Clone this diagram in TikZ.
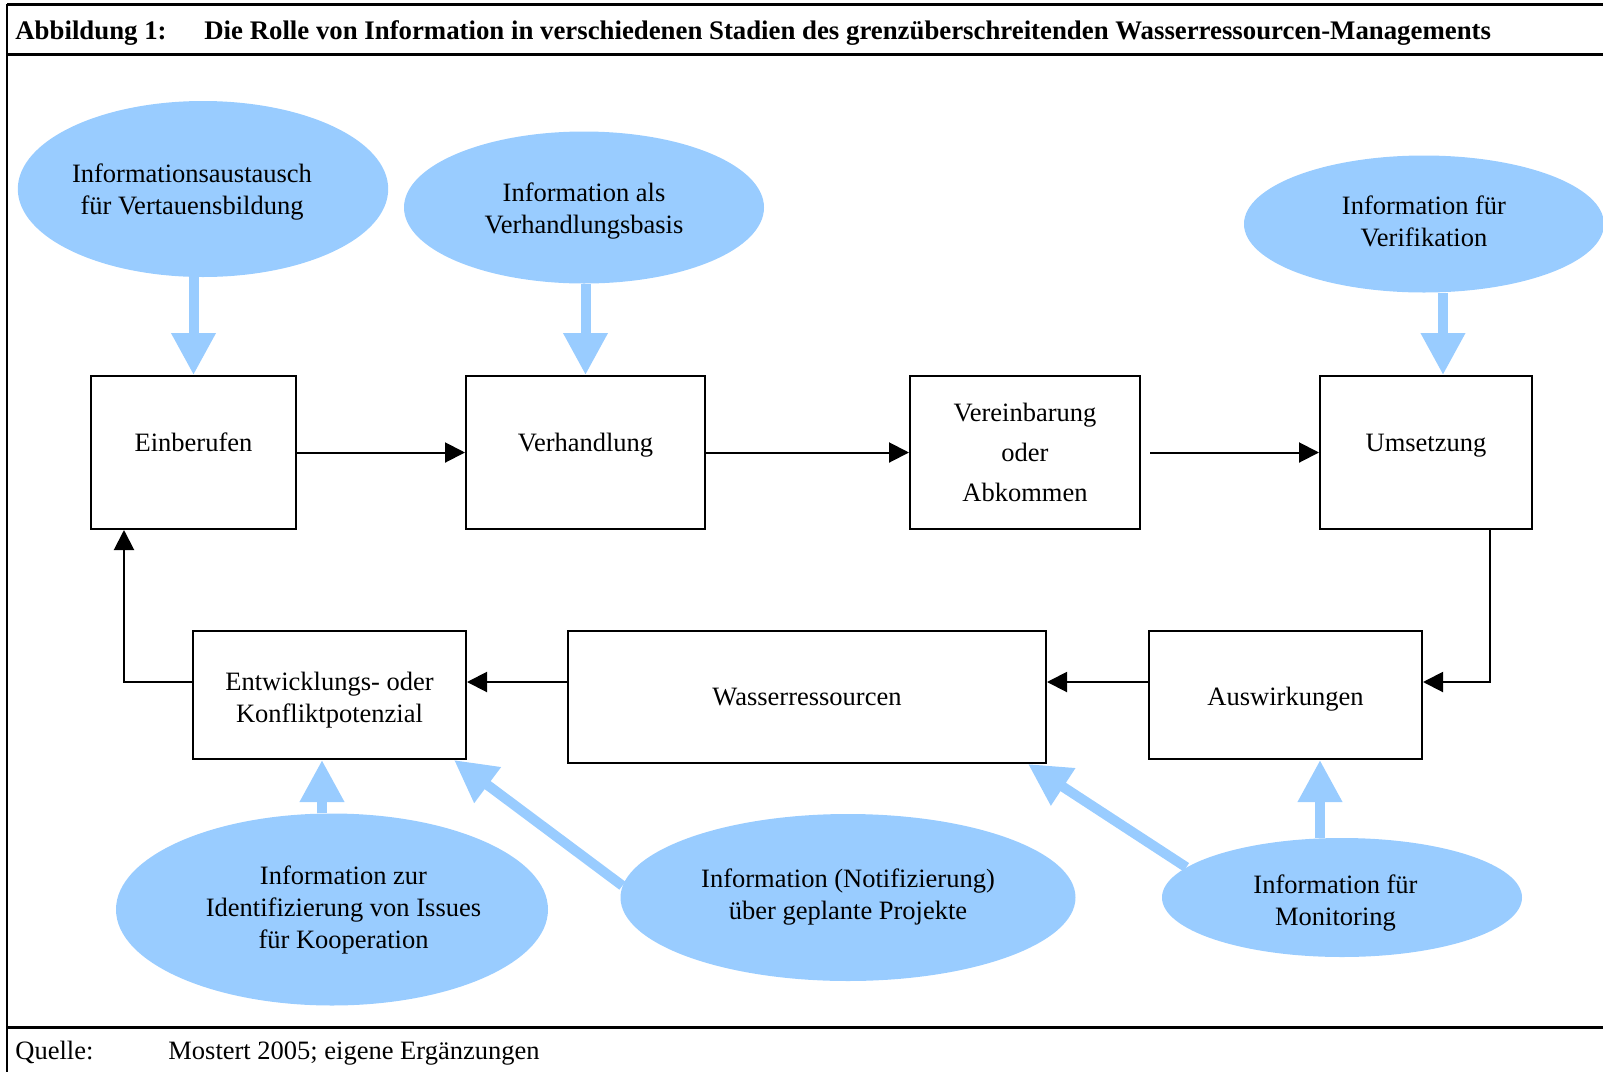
\documentclass[tikz,border=0pt]{standalone}
\usepackage{fontspec}
\setmainfont{Liberation Serif}
\usepackage{xcolor}
\usepackage{tikz}
\usetikzlibrary{positioning, arrows.meta, shapes.geometric, calc}
\definecolor{infoblue}{HTML}{99CCFF}

\tikzset{
  stage/.style={draw=black, line width=1pt, inner sep=0pt, align=center,
                minimum width=#1},
  stagetop/.style={stage=#1, minimum height=76.5pt,
                   text height=0.7em, text depth=0.8em},
  info/.style={ellipse, fill=infoblue, inner sep=0pt, align=center},
  flow/.style={draw=black, line width=1pt, -{Triangle[length=10pt,width=10pt]}},
  infoarrow/.style={draw=infoblue, line width=5pt, -{Triangle[length=21pt,width=21pt]}},
  caption/.style={anchor=base west, inner sep=0pt},
}

\begin{document}
\begin{tikzpicture}[x=0.5pt, y=-0.5pt, font=\fontsize{13.25pt}{16pt}\selectfont]
    \useasboundingbox (0,0) rectangle (1603,1072);

    % frame
    \draw[line width=1.5pt] (7,4) -- (1603,4);
    \draw[line width=1.5pt] (7,54) -- (1603,54);
    \draw[line width=1.5pt] (7,1027) -- (1603,1027);
    \draw[line width=1.2pt] (7,4) -- (7,1072);

    \node[caption, font=\fontsize{13.4pt}{16pt}\selectfont\bfseries] (fignum) at (15,39) {Abbildung 1:};
    \node[caption, font=\fontsize{13.4pt}{16pt}\selectfont\bfseries] (figtitle) at (204,39)
      {Die Rolle von Information in verschiedenen Stadien des grenzüberschreitenden Wasserressourcen-Managements};
    \node[caption] (srclabel) at (15,1059) {Quelle:};
    \node[caption] (srctext) at (168,1059) {Mostert 2005; eigene Ergänzungen};

    % stages
    \node[stagetop=102.5pt] (ein) at (193.5,452.5) {Einberufen};
    \node[stagetop=119.5pt] (ver) at (585.5,452.5) {Verhandlung};
    \node[stage=115pt, minimum height=76.5pt, font=\fontsize{13.25pt}{20pt}\selectfont]
      (vb) at (1025,452.5) {Vereinbarung\\oder\\Abkommen};
    \node[stagetop=106pt] (ums) at (1426,452.5) {Umsetzung};

    \node[stage=136.5pt, minimum height=64pt] (ent) at (329.5,695)
      {\rule{0pt}{14pt}Entwicklungs- oder\\Konfliktpotenzial};
    \node[stage=239pt, minimum height=66pt] (was) at (807,697) {Wasserressourcen};
    \node[stage=136.5pt, minimum height=64pt] (aus) at (1285.5,695)
      {\rule{0pt}{13pt}Auswirkungen};

    % information
    \node[info, minimum width=183pt, minimum height=88pt] (e1) at (203,189)
      {\rule{0pt}{12pt}Informationsaustausch\hspace*{11pt}\\für Vertauensbildung\hspace*{11pt}};
    \node[info, minimum width=180pt, minimum height=76pt] (e2) at (584,207.5)
      {\rule{0pt}{13pt}Information als\\Verhandlungsbasis};
    \node[info, minimum width=180pt, minimum height=68.5pt] (e3) at (1424,224)
      {Information für\\Verifikation\rule[-3pt]{0pt}{3pt}};
    \node[info, minimum width=216pt, minimum height=96pt] (e4) at (332,909.5)
      {\hspace*{11.5pt}Information zur\\\hspace*{11.5pt}Identifizierung von Issues\\\hspace*{11.5pt}für Kooperation};
    \node[info, minimum width=227.5pt, minimum height=83.5pt] (e5) at (848,897.5)
      {Information (Notifizierung)\\über geplante Projekte};
    \node[info, minimum width=180pt, minimum height=59.5pt] (e6) at (1342,897.5)
      {\rule{0pt}{15pt}Information für\hspace*{6.5pt}\\Monitoring\hspace*{6.5pt}};

    % cycle
    \coordinate (row) at (0,682);
    \draw[flow] (ein) -- (ver);
    \draw[flow] (ver) -- (vb);
    \draw[flow, shorten <=4.5pt] (vb) -- (ums);
    \draw[flow] ($(ums.south east)+(-43,0)$) |- (aus.east |- row);
    \draw[flow] (aus.west |- row) -- (was.east |- row);
    \draw[flow] (was.west |- row) -- (ent.east |- row);
    \draw[flow] (ent.west |- row) -| ($(ein.south west)+(34,0)$);

    % information arrows
    \coordinate (ums-in) at ($(ums.north)+(17,0)$);
    \coordinate (ent-in) at ($(ent.south)+(-7.5,0)$);
    \coordinate (aus-in) at ($(aus.south)+(34.5,0)$);
    \draw[infoarrow] (e1.south -| ein.north) -- (ein.north);
    \draw[infoarrow] (e2.south -| ver.north) -- (ver.north);
    \draw[infoarrow] (e3.south -| ums-in) -- (ums-in);
    \draw[infoarrow] (e4.north -| ent-in) -- (ent-in);
    \draw[infoarrow] (e5.177) -- ($(ent.south east)+(-13,0)$);
    \draw[infoarrow] (e6.169) -- ($(was.south east)+(-19,0)$);
    \draw[infoarrow] (e6.north -| aus-in) -- (aus-in);
  \end{tikzpicture}
\end{document}
